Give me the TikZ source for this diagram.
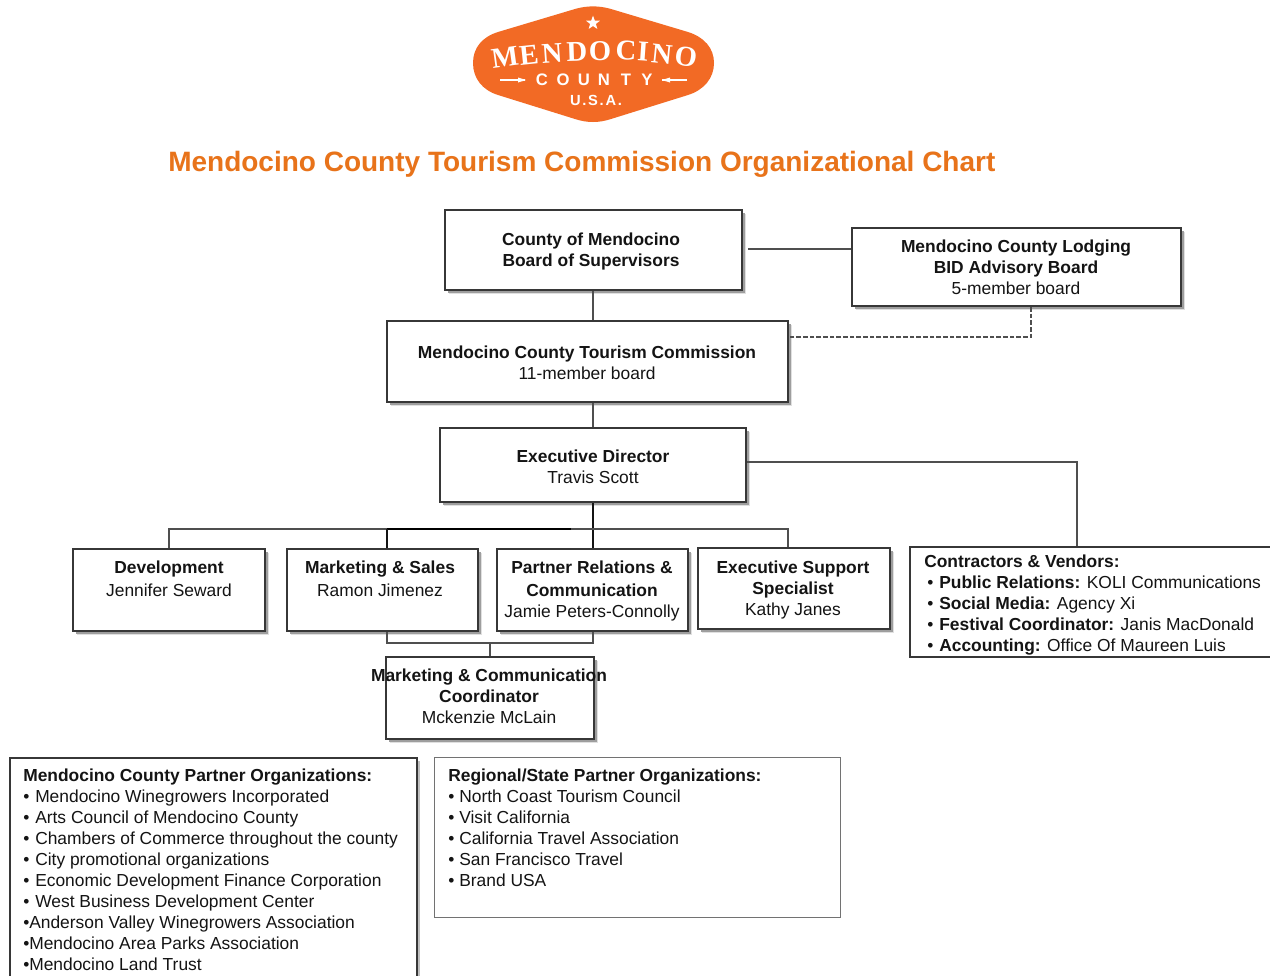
\documentclass[tikz,border=0pt]{standalone}
\usepackage{fontspec}
\setmainfont{Liberation Sans}
\newfontfamily\logoserif{Liberation Serif}
\usetikzlibrary{shadows,shapes.geometric}
\definecolor{logoorange}{HTML}{F26A25}
\definecolor{titleorange}{HTML}{E8731A}
\definecolor{inkc}{HTML}{141414}
\newcommand{\bl}[1]{\textbf{#1}}
\newlength{\pxu}\setlength{\pxu}{0.75pt}
\newcommand{\itm}[2][9]{\makebox[#1\pxu][l]{•}#2}
\tikzset{
  x=0.75pt,y=-0.75pt,
  softshadow/.style={general shadow={shadow xshift=3.2pt,shadow yshift=-3.2pt,fill=black!12},
                     general shadow={shadow xshift=2.2pt,shadow yshift=-2.2pt,fill=black!38}},
  orgbox/.style={draw=inkc!85,line width=1.5pt,fill=white,rectangle,softshadow,inner sep=0pt},
  thinbox/.style={draw=inkc!85,line width=0.8pt,fill=white,rectangle,inner sep=0pt},
  ctext/.style={align=center,inner sep=0pt,anchor=north,font=\fontsize{13.05pt}{15.75pt}\selectfont,text=inkc},
  ltext/.style={align=left,inner sep=0pt,anchor=north west,font=\fontsize{13.05pt}{15.75pt}\selectfont,text=inkc},
  link/.style={draw=inkc!75,line width=1.3pt},
  logoletter/.style={text=white,inner sep=0pt,font=\logoserif\bfseries\fontsize{21.5pt}{21.5pt}\selectfont},
  logosans/.style={text=white,inner sep=0pt,font=\bfseries\fontsize{12.5pt}{13pt}\selectfont},
}
\newcommand{\pxbox}[6]{\node[#1,minimum width=#4*0.75pt-#2*0.75pt,minimum height=#5*0.75pt-#3*0.75pt] (#6) at ({(#2+#4)/2},{(#3+#5)/2}) {};}
\begin{document}
\begin{tikzpicture}
\clip (0,0) rectangle (1270,975);
\fill[white] (0,0) rectangle (1270,975);
% logo
\fill[logoorange] (473,63) .. controls (473,48) and (482,37) .. (498,32)
  -- (575,9) .. controls (587,5.5) and (599,5.5) .. (611,9) -- (688,32)
  .. controls (704,37) and (714,48) .. (714,63) .. controls (714,78) and (704,90) .. (688,95)
  -- (611,119) .. controls (599,123) and (587,123) .. (575,119) -- (498,95)
  .. controls (482,90) and (473,78) .. (473,63) -- cycle;
\node[star,star points=5,star point ratio=2.4,fill=white,inner sep=0pt,minimum size=11pt] (logostar) at (593,23) {};
\foreach \c/\px/\py/\r in {M/505/57/8,E/529/55/6,N/552/53/4,D/577/52/2,O/600/51/0,C/626/51/-2,I/643/52/-4,N/662/54/-6,O/686/57/-8}
  \node[logoletter,rotate=\r] at (\px,\py) {\c};
\foreach \c/\px in {C/542,O/563,U/584,N/604,T/626,Y/647}
  \node[logosans] at (\px,80) {\c};
\node[logosans,font=\bfseries\fontsize{11pt}{11pt}\selectfont\addfontfeature{LetterSpace=12}] (logousa) at (596,100) {U.S.A.};
\draw[white,line width=1.1pt] (500,80) -- (525,80);
\draw[white,line width=1.1pt] (662,80) -- (687,80);
\fill[white] (518,77.5) -- (526,80) -- (518,82.5) -- cycle;
\fill[white] (670,77.5) -- (662,80) -- (670,82.5) -- cycle;
% title
\node[inner sep=0pt,anchor=base west,text=titleorange,font=\bfseries\fontsize{21pt}{24pt}\selectfont] (title) at (168,171) {Mendocino County Tourism Commission Organizational Chart};
% boxes
\pxbox{orgbox}{445}{210}{742}{290}{county}
\pxbox{orgbox}{852}{228}{1181}{306}{lodging}
\pxbox{orgbox}{387}{321}{788}{402}{mctc}
\pxbox{orgbox}{440}{428}{746}{502}{exec}
\pxbox{orgbox}{73}{549}{265}{631}{dev}
\pxbox{orgbox}{287}{549}{478}{631}{mktg}
\pxbox{orgbox}{497}{549}{688}{631}{partner}
\pxbox{orgbox}{698}{548}{890}{629}{support}
\pxbox{orgbox}{386}{657}{594}{739}{coord}
\pxbox{thinbox}{910}{547}{1280}{657}{vendors}
\pxbox{thinbox,general shadow={shadow xshift=2.4pt,shadow yshift=-2.4pt,fill=black!25}}{10}{758}{417}{990}{localorgs}
\pxbox{thinbox,draw=inkc!60,line width=0.7pt}{434}{757}{840}{917}{stateorgs}
% connector anchors
\coordinate (trunk) at (593,529);
\coordinate (busl) at (169,529);
\coordinate (busm) at (387,529);
\coordinate (busr) at (788,529);
\coordinate (busd) at (571,529);
\coordinate (dashx) at (1031,337);
\coordinate (cx) at (1077,462);
\coordinate (jointl) at (387,643);
\coordinate (jointr) at (593,643);
\coordinate (jointm) at (490,643);
\coordinate (countyr) at (748,249);
% connectors
\draw[link] (county.south -| trunk) -- (mctc.north -| trunk);
\draw[link] (countyr) -- (countyr -| lodging.west);
\draw[link,line width=1pt,dash pattern=on 3.5pt off 1.5pt] (lodging.south -| dashx) -- (dashx) -- (dashx -| mctc.east);
\draw[link] (mctc.south -| trunk) -- (exec.north -| trunk);
\draw[link] (exec.east |- cx) -- (cx) -- (vendors.north -| cx);
\draw[link,draw=inkc] (exec.south -| trunk) -- (partner.north -| trunk);
\draw[link] (dev.north -| busl) -- (busl) -- (busr) -- (support.north -| busr);
\draw[link,draw=black] (busm) -- (busd);
\draw[link,draw=inkc] (mktg.north -| busm) -- (busm);
\draw[link,line width=1pt] (mktg.south -| jointl) -- (jointl) -- (jointr) -- (partner.south -| jointr);
\draw[link,line width=1pt] (jointm) -- (coord.north -| jointm);
% texts
\node[ctext] (tcounty) at (591,233) {\bl{County of Mendocino}\\\bl{Board of Supervisors}};
\node[ctext] (tlodging) at (1016,240) {\bl{Mendocino County Lodging}\\\bl{BID Advisory Board}\\5-member board};
\node[ctext] (tmctc) at (587,345.5) {\bl{Mendocino County Tourism Commission}\\11-member board};
\node[ctext] (texec) at (593,449.5) {\bl{Executive Director}\\Travis Scott};
\node[ctext] (tdev) at (169,560.5) {\bl{Development}\\[1.5pt]Jennifer Seward};
\node[ctext] (tmktg) at (380,560.5) {\bl{Marketing \& Sales}\\[1.5pt]Ramon Jimenez};
\node[ctext] (tpartner) at (592,560.5) {\bl{Partner Relations \&}\\[1.5pt]\bl{Communication}\\Jamie Peters-Connolly};
\node[ctext] (tsupport) at (793,560.5) {\bl{Executive Support}\\\bl{Specialist}\\Kathy Janes};
\node[ctext] (tcoord) at (489,669) {\bl{Marketing \& Communication}\\\bl{Coordinator}\\Mckenzie McLain};
\node[ltext] (tvendors) at (924,554.5) {\bl{Contractors \& Vendors:}\\
 \hspace*{3\pxu}\itm[12]{\bl{Public Relations:} KOLI Communications}\\
 \hspace*{3\pxu}\itm[12]{\bl{Social Media:} Agency Xi}\\
 \hspace*{3\pxu}\itm[12]{\bl{Festival Coordinator:} Janis MacDonald}\\
 \hspace*{3\pxu}\itm[12]{\bl{Accounting:} Office Of Maureen Luis}};
\node[ltext] (tlocal) at (23,768.5) {\bl{Mendocino County Partner Organizations:}\\
 \itm[12]{Mendocino Winegrowers Incorporated}\\
 \itm[12]{Arts Council of Mendocino County}\\
 \itm[12]{Chambers of Commerce throughout the county}\\
 \itm[12]{City promotional organizations}\\
 \itm[12]{Economic Development Finance Corporation}\\
 \itm[12]{West Business Development Center}\\
 \itm[6]{Anderson Valley Winegrowers Association}\\
 \itm[6]{Mendocino Area Parks Association}\\
 \itm[6]{Mendocino Land Trust}};
\node[ltext] (tstate) at (448,768.5) {\bl{Regional/State Partner Organizations:}\\
 \itm[11]{North Coast Tourism Council}\\
 \itm[11]{Visit California}\\
 \itm[11]{California Travel Association}\\
 \itm[11]{San Francisco Travel}\\
 \itm[11]{Brand USA}};
\end{tikzpicture}
\end{document}
